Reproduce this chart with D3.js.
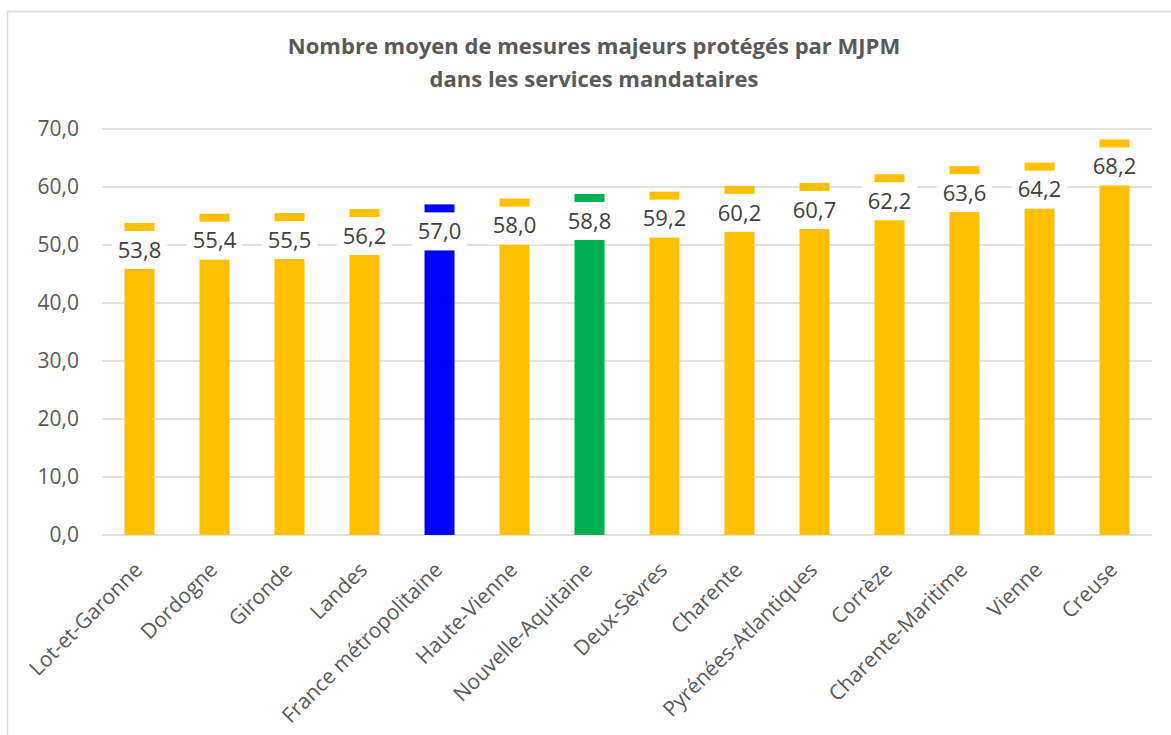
<!DOCTYPE html>
<html>
<head>
<meta charset="utf-8">
<script src="https://cdn.jsdelivr.net/npm/d3@7"></script>
<style>
  html, body { margin: 0; padding: 0; background: #fff; }
  svg { display: block; }
  text { font-family: "Open Sans", sans-serif; }
</style>
</head>
<body>
<svg id="chart" width="1171" height="735"></svg>
<script>
const categories = ["Lot-et-Garonne", "Dordogne", "Gironde", "Landes", "France métropolitaine",
  "Haute-Vienne", "Nouvelle-Aquitaine", "Deux-Sèvres", "Charente", "Pyrénées-Atlantiques",
  "Corrèze", "Charente-Maritime", "Vienne", "Creuse"];
const values = [53.8, 55.4, 55.5, 56.2, 57.0, 58.0, 58.8, 59.2, 60.2, 60.7, 62.2, 63.6, 64.2, 68.2];
const barColors = ["#FFC000", "#FFC000", "#FFC000", "#FFC000", "#0000FF", "#FFC000", "#00B050",
  "#FFC000", "#FFC000", "#FFC000", "#FFC000", "#FFC000", "#FFC000", "#FFC000"];
const yTicks = [0, 10, 20, 30, 40, 50, 60, 70];
const titleLines = ["Nombre moyen de mesures majeurs protégés par MJPM", "dans les services mandataires"];

const fmt = v => v.toFixed(1).replace(".", ",");

const svg = d3.select("#chart");
const W = 1171, H = 735;
const plot = { left: 102, right: 1152, top: 129, bottom: 535 };

// frame
svg.append("rect").attr("x", 7.5).attr("y", 11.5).attr("width", W + 20).attr("height", H + 20)
  .attr("fill", "#fff").attr("stroke", "#D9D9D9").attr("stroke-width", 1.5);

// title
svg.append("g").selectAll("text").data(titleLines).join("text")
  .attr("x", 594).attr("y", (d, i) => 54 + i * 33)
  .attr("text-anchor", "middle")
  .attr("font-size", 22).attr("font-weight", "bold").attr("fill", "#595959")
  .text(d => d);

const x = d3.scaleBand().domain(categories).range([plot.left, plot.right]).paddingInner(0.6).paddingOuter(0.3);
const y = d3.scaleLinear().domain([0, 70]).range([plot.bottom, plot.top]);

// gridlines
svg.append("g").selectAll("line").data(yTicks).join("line")
  .attr("x1", plot.left).attr("x2", plot.right)
  .attr("y1", d => y(d)).attr("y2", d => y(d))
  .attr("stroke", "#D9D9D9").attr("stroke-width", 1.5);

// y axis labels
const yAxis = d3.axisLeft(y).tickValues(yTicks).tickFormat(fmt).tickSize(0).tickPadding(23);
const yg = svg.append("g").attr("transform", `translate(${plot.left},0)`).call(yAxis);
yg.select(".domain").remove();
yg.selectAll("text").attr("font-size", 21).attr("fill", "#595959").attr("font-family", "Open Sans, sans-serif");

// bars
svg.append("g").selectAll("rect").data(values).join("rect")
  .attr("x", (d, i) => x(categories[i]))
  .attr("y", d => y(d))
  .attr("width", x.bandwidth())
  .attr("height", d => y(0) - y(d))
  .attr("fill", (d, i) => barColors[i]);

// data labels with white boxes
const lg = svg.append("g");
values.forEach((v, i) => {
  const cx = x(categories[i]) + x.bandwidth() / 2;
  const top = y(v) + 8;
  const t = lg.append("text").attr("x", cx).attr("y", top + 19).attr("dy", "0.35em")
    .attr("text-anchor", "middle").attr("font-size", 22).attr("fill", "#404040").text(fmt(v));
  const w = t.node().getComputedTextLength() + 12;
  lg.insert("rect", "text").attr("x", cx - w / 2).attr("y", top).attr("width", w).attr("height", 38)
    .attr("fill", "#fff");
});

// x axis labels
const xg = svg.append("g");
categories.forEach(c => {
  const cx = x(c) + x.bandwidth() / 2;
  xg.append("text")
    .attr("transform", `translate(${cx - 1},${plot.bottom + 31}) rotate(-45)`)
    .attr("text-anchor", "end").attr("dy", "0.35em")
    .attr("font-size", 21).attr("fill", "#595959").text(c);
});
</script>
</body>
</html>
